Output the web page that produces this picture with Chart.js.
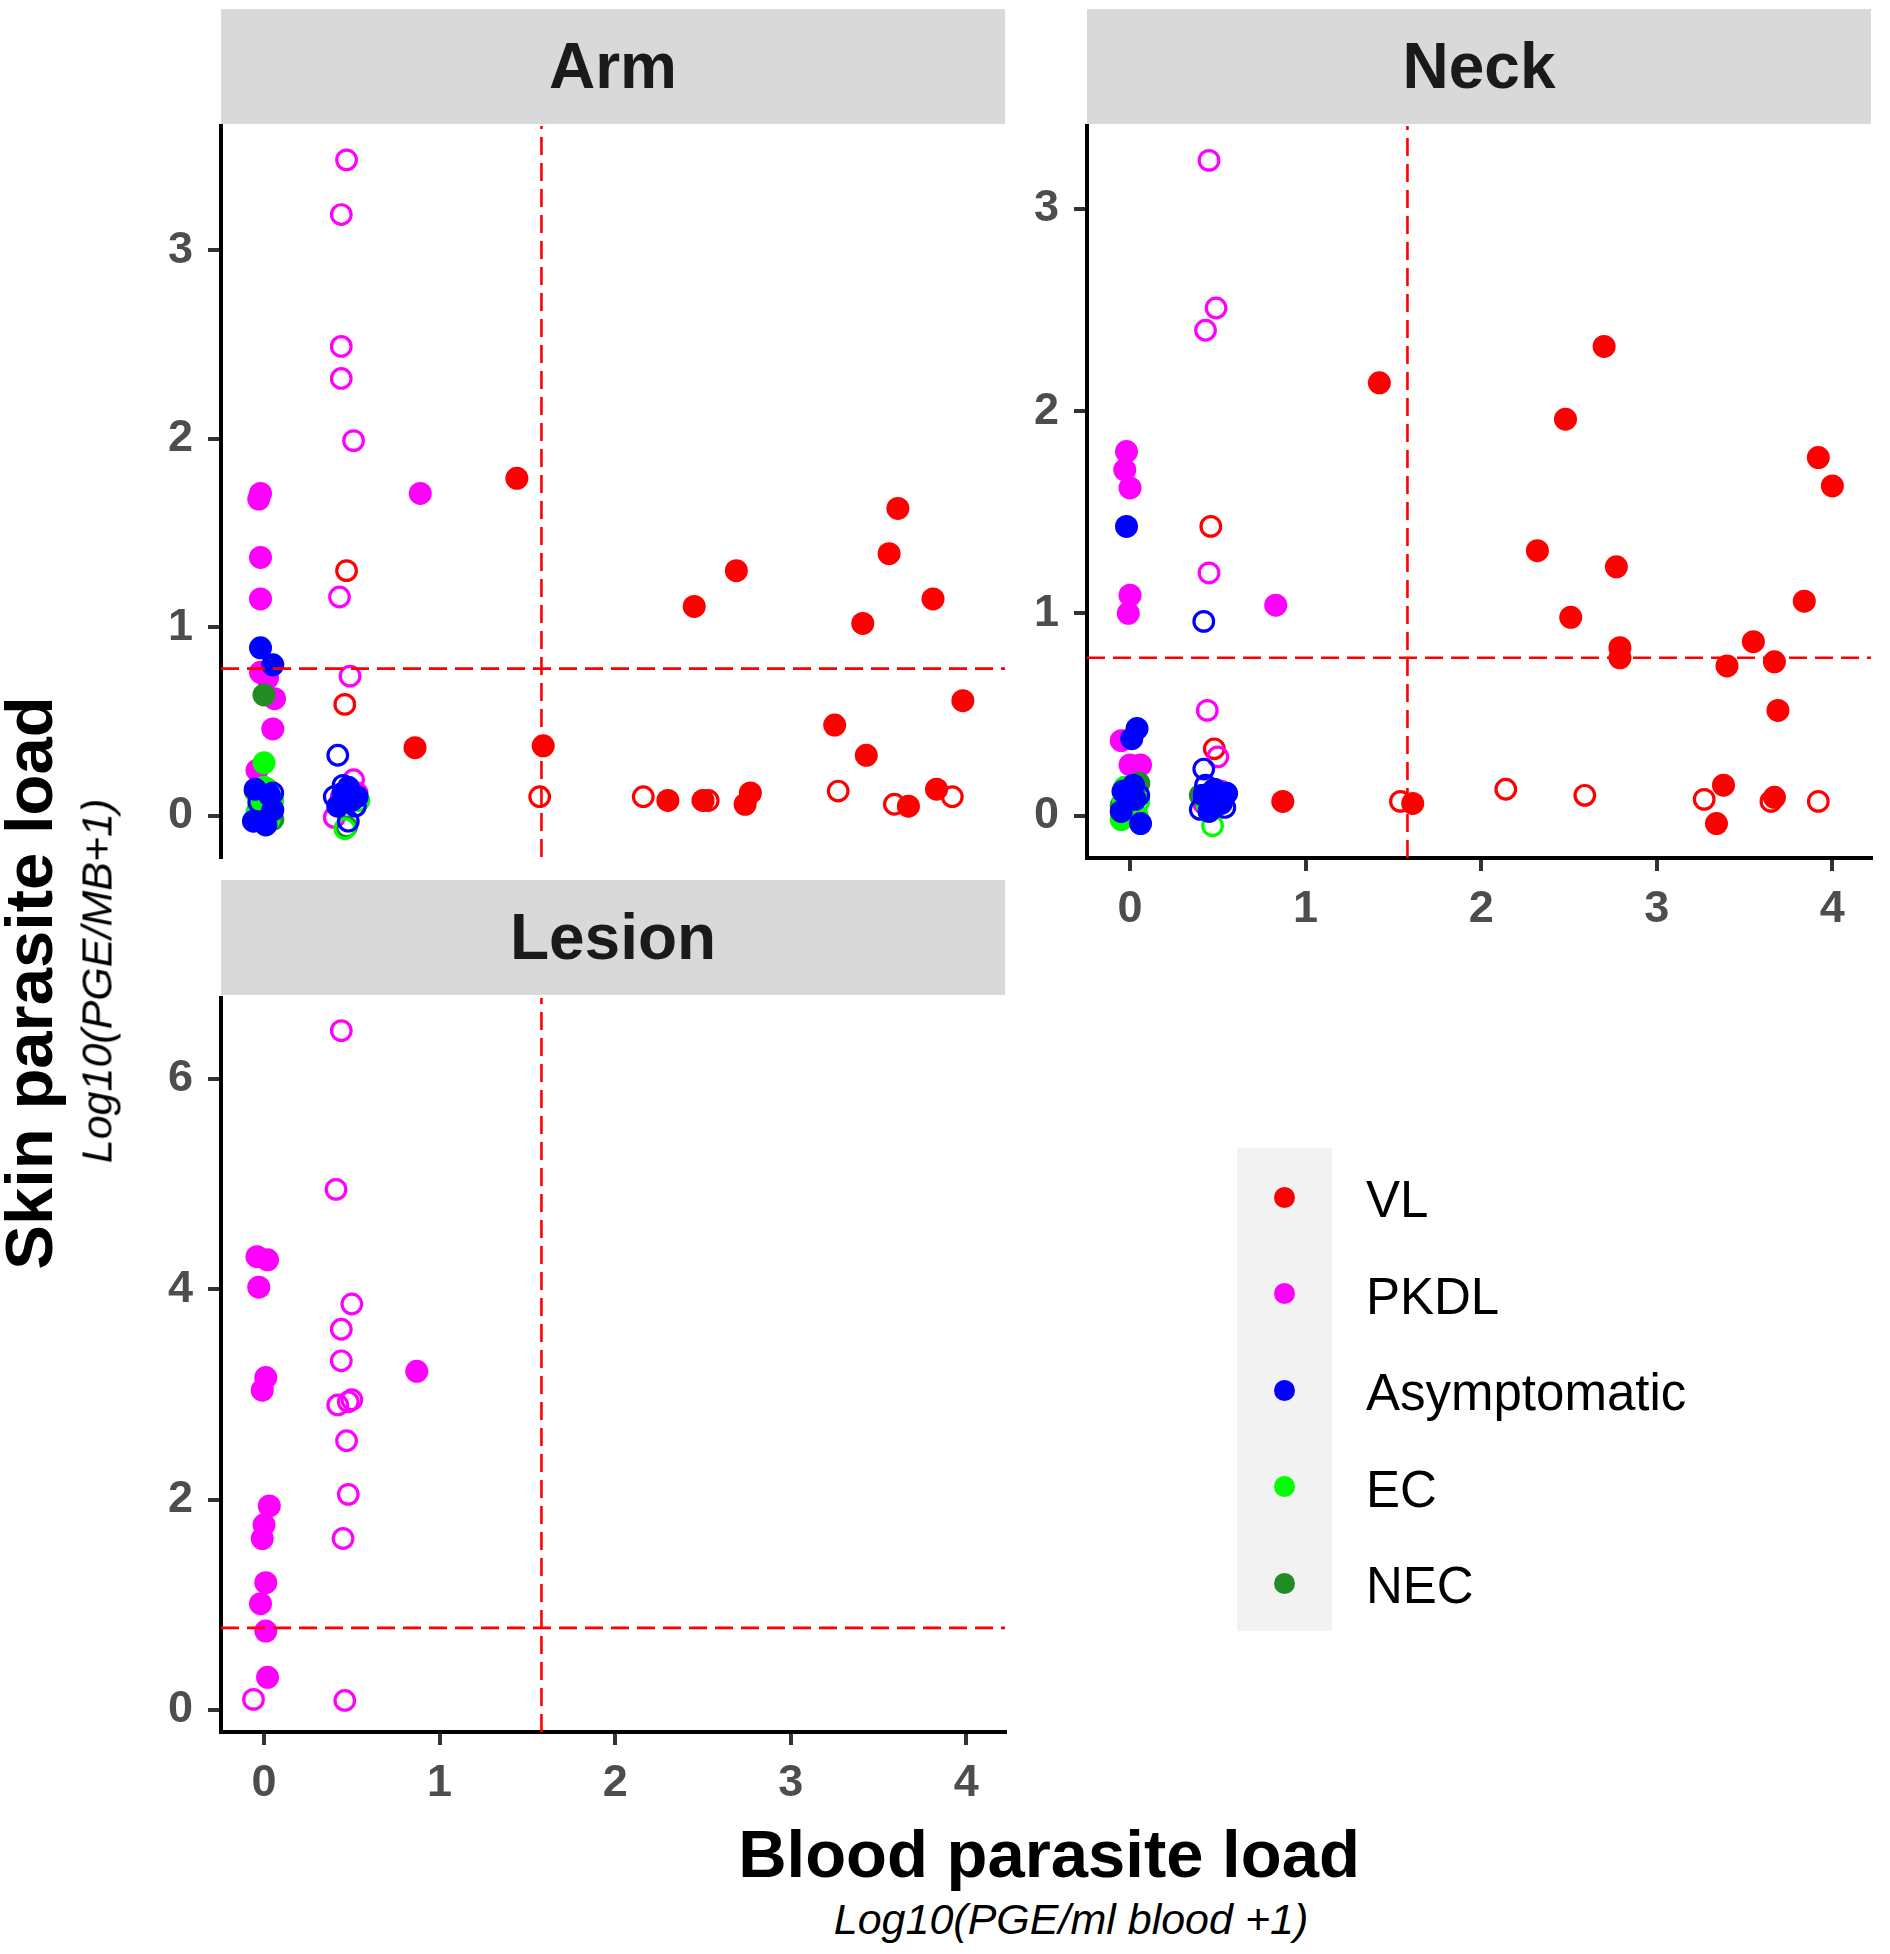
<!DOCTYPE html>
<html>
<head>
<meta charset="utf-8">
<script src="https://cdn.jsdelivr.net/npm/chart.js@4.4.0/dist/chart.umd.min.js"></script>
<style>
  body { margin: 0; width: 1890px; height: 1954px; background: #fff; position: relative; overflow: hidden;
         font-family: "Liberation Sans", Arial, sans-serif; }
  canvas { position: absolute; }
  .strip { position: absolute; background: #d9d9d9; color: #1a1a1a; font-weight: bold; font-size: 64px;
           text-align: center; height: 115px; line-height: 115px; width: 784px; }
  .title { position: absolute; white-space: nowrap; transform: translate(-50%, -50%); }
  .vtitle { position: absolute; white-space: nowrap; transform: translate(-50%, -50%) rotate(-90deg); }
  .big { font-weight: bold; font-size: 67px; color: #000; }
  .sub { font-style: italic; font-size: 43px; color: #000; }
  #legendBox { position: absolute; left: 1237px; top: 1148px; width: 95px; height: 483px; background: #f2f2f2; }
  .key { position: absolute; width: 21px; height: 21px; border-radius: 50%; }
  .lab { position: absolute; font-size: 51px; color: #000; line-height: 60px; }
</style>
</head>
<body>

<div class="strip" style="left:221px; top:9px;">Arm</div>
<div class="strip" style="left:1087px; top:9px;">Neck</div>
<div class="strip" style="left:221px; top:880px;">Lesion</div>

<canvas id="armChart" width="945" height="815" style="left:100px; top:84px;"></canvas>
<canvas id="neckChart" width="924" height="854" style="left:966px; top:84px;"></canvas>
<canvas id="lesionChart" width="945" height="856" style="left:100px; top:956px;"></canvas>

<div class="vtitle big" style="left:28px; top:983px;">Skin parasite load</div>
<div class="vtitle sub" style="left:97px; top:981px;">Log10(PGE/MB+1)</div>
<div class="title big" style="left:1049px; top:1853px;">Blood parasite load</div>
<div class="title sub" style="left:1071px; top:1919px;">Log10(PGE/ml blood +1)</div>

<div id="legendBox"></div>
<div id="legend"></div>

<script>
// groups and colours
const groups = ['VL', 'PKDL', 'Asymptomatic', 'EC', 'NEC'];
const groupColors = ['#ff0000', '#ff00ff', '#0000ff', '#00ff00', '#228b22'];

// cut-offs (dashed lines)
const skinCutoff = 0.78;
const bloodCutoff = 1.58;

// ticks and axis ranges
const xTicks = [0, 1, 2, 3, 4];
const xRange = [-0.245, 4.22];
const armYTicks = [0, 1, 2, 3];
const armYRange = [-0.22, 3.66];
const neckYTicks = [0, 1, 2, 3];
const neckYRange = [-0.21, 3.41];
const lesionYTicks = [0, 2, 4, 6];
const lesionYRange = [-0.21, 6.77];

// Arm: [blood, skin]
const armVLSolid = [[0.86,0.36],[1.44,1.79],[1.59,0.37],[2.30,0.08],[2.45,1.11],[2.50,0.08],[2.69,1.30],[2.74,0.06],
  [2.77,0.12],[3.25,0.48],[3.43,0.32],[3.41,1.02],[3.56,1.39],[3.61,1.63],[3.67,0.05],[3.81,1.15],[3.83,0.14],[3.98,0.61]];
const armVLOpen = [[0.47,1.30],[0.46,0.59],[1.57,0.10],[2.16,0.10],[2.53,0.08],[3.27,0.13],[3.59,0.06],[3.92,0.10],[0.47,0.10]];
const armPKDLSolid = [[-0.02,1.71],[-0.03,1.68],[-0.02,1.37],[-0.02,1.15],[-0.02,0.76],[0.02,0.73],[0.06,0.62],
  [0.05,0.46],[-0.04,0.24],[0.89,1.71],[0.0,0.08]];
const armPKDLOpen = [[0.47,3.48],[0.44,3.19],[0.44,2.49],[0.44,2.32],[0.51,1.99],[0.43,1.16],[0.49,0.74],[0.51,0.19],
  [0.40,-0.01],[0.44,0.10],[0.53,0.12]];
const armAsymSolid = [[-0.02,0.89],[0.05,0.80],[-0.05,0.14],[0.03,0.11],[-0.06,-0.03],[0.01,-0.05],[0.05,0.03],
  [0.45,0.12],[0.50,0.08],[0.42,0.05],[0.48,0.15],[0.53,0.10]];
const armAsymOpen = [[0.42,0.32],[0.05,0.12],[-0.03,0.07],[0.40,0.10],[0.52,0.05],[0.48,-0.03],[0.45,0.16]];
const armECSolid = [[0.0,0.28],[-0.02,0.04],[0.03,0.07],[-0.04,0.12],[0.02,0.0],[0.0,0.15]];
const armECOpen = [[0.02,0.14],[-0.01,0.10],[0.05,0.08],[-0.04,0.02],[0.03,-0.02],[0.54,0.08],[0.46,-0.07]];
const armNECSolid = [[0.0,0.64],[0.05,-0.02],[-0.05,0.13]];
const armNECOpen = [[0.47,-0.06]];

// Neck
const neckVLSolid = [[0.87,0.07],[1.42,2.14],[1.61,0.06],[2.32,1.31],[2.48,1.96],[2.51,0.98],[2.70,2.32],[2.77,1.23],
  [2.79,0.83],[2.79,0.78],[3.34,-0.04],[3.38,0.15],[3.40,0.74],[3.55,0.86],[3.67,0.76],[3.67,0.09],[3.69,0.52],
  [3.84,1.06],[3.92,1.77],[4.00,1.63]];
const neckVLOpen = [[0.46,1.43],[0.48,0.33],[1.54,0.07],[2.14,0.13],[2.59,0.10],[3.27,0.08],[3.65,0.07],[3.92,0.07]];
const neckPKDLSolid = [[-0.02,1.80],[-0.03,1.71],[0.0,1.62],[0.0,1.09],[-0.01,1.00],[0.83,1.04],[-0.05,0.37],
  [0.0,0.25],[0.06,0.25]];
const neckPKDLOpen = [[0.45,3.24],[0.49,2.51],[0.43,2.40],[0.45,1.20],[0.44,0.52],[0.50,0.29],[0.42,0.06],[0.52,0.12]];
const neckAsymSolid = [[-0.02,1.43],[0.04,0.43],[0.01,0.38],[0.06,-0.04],[-0.04,0.12],[0.03,0.08],[-0.05,0.02],
  [0.02,0.15],[0.42,0.10],[0.48,0.13],[0.52,0.06],[0.45,0.02],[0.55,0.11]];
const neckAsymOpen = [[0.42,0.96],[0.42,0.23],[0.43,0.15],[0.50,0.08],[0.05,0.10],[0.40,0.03],[0.54,0.04]];
const neckECSolid = [[-0.05,-0.02],[0.0,0.05],[-0.03,0.14],[0.04,0.0]];
const neckECOpen = [[0.02,0.15],[-0.03,0.10],[0.05,0.07],[0.0,0.03],[-0.04,0.06],[0.47,-0.05],[0.44,0.05]];
const neckNECSolid = [[0.05,0.16],[-0.05,0.05]];
const neckNECOpen = [[0.40,0.10]];

// Lesion (PKDL only)
const lesionPKDLSolid = [[-0.04,4.31],[0.02,4.28],[-0.03,4.02],[0.01,3.16],[-0.01,3.04],[0.03,1.94],[0.0,1.76],
  [-0.01,1.63],[0.01,1.21],[-0.02,1.01],[0.01,0.75],[0.02,0.31],[0.87,3.22]];
const lesionPKDLOpen = [[0.44,6.46],[0.41,4.95],[0.50,3.86],[0.44,3.62],[0.44,3.32],[0.42,2.90],[0.48,2.93],
  [0.50,2.95],[0.47,2.56],[0.48,2.05],[0.45,1.63],[-0.06,0.10],[0.46,0.09]];

const fontFamily = '"Liberation Sans", Arial, sans-serif';

function pts(arr) {
    return arr.map(p => ({ x: p[0], y: p[1] }));
}

function solid(arr, color) {
    return { data: pts(arr), pointBackgroundColor: color, pointBorderWidth: 0, pointRadius: 11.5, pointHoverRadius: 11.5 };
}

function ring(arr, color) {
    return { data: pts(arr), pointBackgroundColor: 'rgba(0,0,0,0)', pointBorderColor: color,
             pointBorderWidth: 3.2, pointRadius: 9.8, pointHoverRadius: 9.8 };
}

function cutLines(yRange) {
    const style = { showLine: true, borderColor: '#ff0000', borderWidth: 2.6, borderDash: [18, 8], pointRadius: 0 };
    return [
        Object.assign({ data: [{ x: xRange[0], y: skinCutoff }, { x: xRange[1], y: skinCutoff }] }, style),
        Object.assign({ data: [{ x: bloodCutoff, y: yRange[0] }, { x: bloodCutoff, y: yRange[1] }] }, style)
    ];
}

function axis(range, ticks, showIt, isX) {
    return {
        type: 'linear',
        display: showIt,
        min: range[0],
        max: range[1],
        afterBuildTicks: s => { s.ticks = ticks.map(v => ({ value: v })); },
        afterFit: s => {
            if (!showIt) return;
            if (isX) s.height = 80; else s.width = 121;
        },
        border: { display: true, color: '#000', width: 4 },
        grid: { drawOnChartArea: false, drawTicks: true, tickLength: 13, color: '#333333', lineWidth: 4 },
        ticks: { color: '#4d4d4d', padding: isX ? 12 : 15, font: { family: fontFamily, size: 45, weight: 'bold' } }
    };
}

function makeChart(id, sets, yRange, yTicks, showX, rightPad) {
    new Chart(document.getElementById(id), {
        type: 'scatter',
        data: { datasets: cutLines(yRange).concat(sets) },
        options: {
            responsive: false,
            animation: false,
            devicePixelRatio: 1,
            layout: { padding: { top: 40, right: rightPad, bottom: showX ? 0 : 40, left: 0 } },
            plugins: { legend: { display: false }, tooltip: { enabled: false } },
            scales: {
                x: axis(xRange, xTicks, showX, true),
                y: axis(yRange, yTicks, true, false)
            }
        }
    });
}

const [cVL, cPKDL, cAsym, cEC, cNEC] = groupColors;

makeChart('armChart', [
    solid(armAsymSolid, cAsym), ring(armAsymOpen, cAsym),
    ring(armECOpen, cEC), solid(armECSolid, cEC),
    solid(armNECSolid, cNEC), ring(armNECOpen, cNEC),
    solid(armPKDLSolid, cPKDL), ring(armPKDLOpen, cPKDL),
    solid(armVLSolid, cVL), ring(armVLOpen, cVL)
], armYRange, armYTicks, false, 40);

makeChart('neckChart', [
    solid(neckAsymSolid, cAsym), ring(neckAsymOpen, cAsym),
    ring(neckECOpen, cEC), solid(neckECSolid, cEC),
    solid(neckNECSolid, cNEC), ring(neckNECOpen, cNEC),
    solid(neckPKDLSolid, cPKDL), ring(neckPKDLOpen, cPKDL),
    solid(neckVLSolid, cVL), ring(neckVLOpen, cVL)
], neckYRange, neckYTicks, true, 19);

makeChart('lesionChart', [
    solid(lesionPKDLSolid, cPKDL), ring(lesionPKDLOpen, cPKDL)
], lesionYRange, lesionYTicks, true, 40);

// legend
const legend = document.getElementById('legend');
groups.forEach((g, i) => {
    const cy = 1197 + i * 96.5;
    const key = document.createElement('div');
    key.className = 'key';
    key.style.left = (1284 - 10.5) + 'px';
    key.style.top = (cy - 10.5) + 'px';
    key.style.background = groupColors[i];
    legend.appendChild(key);
    const lab = document.createElement('div');
    lab.className = 'lab';
    lab.style.left = '1366px';
    lab.style.top = (cy - 27) + 'px';
    lab.textContent = g;
    legend.appendChild(lab);
});
</script>
</body>
</html>
